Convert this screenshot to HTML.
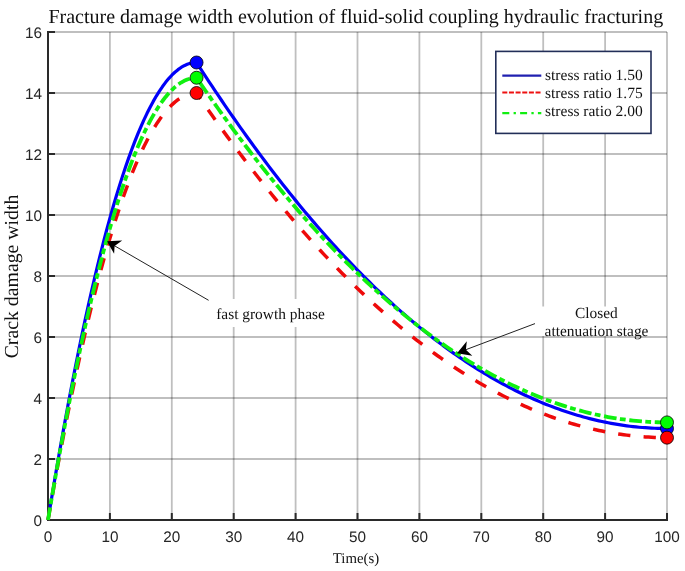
<!DOCTYPE html>
<html><head><meta charset="utf-8"><title>Fracture damage width evolution</title>
<style>
html,body{margin:0;padding:0;background:#fff;}
body{width:685px;height:571px;overflow:hidden;}
svg{display:block;text-rendering:geometricPrecision;}
.serif{font-family:"Liberation Serif","Times New Roman",serif;fill:#111;}
.sans{font-family:"Liberation Sans",Arial,sans-serif;fill:#262626;font-size:15.3px;}
</style></head><body>
<svg width="685" height="571" viewBox="0 0 685 571">
<rect width="685" height="571" fill="#fff"/>
<g stroke="#000" stroke-opacity="0.25" stroke-width="1.8" fill="none">
<line x1="109.90" y1="32.0" x2="109.90" y2="520.0"/>
<line x1="171.80" y1="32.0" x2="171.80" y2="520.0"/>
<line x1="233.70" y1="32.0" x2="233.70" y2="520.0"/>
<line x1="295.60" y1="32.0" x2="295.60" y2="520.0"/>
<line x1="357.50" y1="32.0" x2="357.50" y2="520.0"/>
<line x1="419.40" y1="32.0" x2="419.40" y2="520.0"/>
<line x1="481.30" y1="32.0" x2="481.30" y2="520.0"/>
<line x1="543.20" y1="32.0" x2="543.20" y2="520.0"/>
<line x1="605.10" y1="32.0" x2="605.10" y2="520.0"/>
<line x1="667.00" y1="32.0" x2="667.00" y2="520.0"/>
<line x1="48.0" y1="459.00" x2="667.0" y2="459.00"/>
<line x1="48.0" y1="398.00" x2="667.0" y2="398.00"/>
<line x1="48.0" y1="337.00" x2="667.0" y2="337.00"/>
<line x1="48.0" y1="276.00" x2="667.0" y2="276.00"/>
<line x1="48.0" y1="215.00" x2="667.0" y2="215.00"/>
<line x1="48.0" y1="154.00" x2="667.0" y2="154.00"/>
<line x1="48.0" y1="93.00" x2="667.0" y2="93.00"/>
<line x1="48.0" y1="32.00" x2="667.0" y2="32.00"/>
</g>
<g stroke="#2a2a2a" stroke-width="2" fill="none">
<path d="M48.0,31.0 V520.0 H668.0"/>
<line x1="48.00" y1="520.0" x2="48.00" y2="513.0"/>
<line x1="109.90" y1="520.0" x2="109.90" y2="513.0"/>
<line x1="171.80" y1="520.0" x2="171.80" y2="513.0"/>
<line x1="233.70" y1="520.0" x2="233.70" y2="513.0"/>
<line x1="295.60" y1="520.0" x2="295.60" y2="513.0"/>
<line x1="357.50" y1="520.0" x2="357.50" y2="513.0"/>
<line x1="419.40" y1="520.0" x2="419.40" y2="513.0"/>
<line x1="481.30" y1="520.0" x2="481.30" y2="513.0"/>
<line x1="543.20" y1="520.0" x2="543.20" y2="513.0"/>
<line x1="605.10" y1="520.0" x2="605.10" y2="513.0"/>
<line x1="667.00" y1="520.0" x2="667.00" y2="513.0"/>
<line x1="48.0" y1="520.00" x2="55.0" y2="520.00"/>
<line x1="48.0" y1="459.00" x2="55.0" y2="459.00"/>
<line x1="48.0" y1="398.00" x2="55.0" y2="398.00"/>
<line x1="48.0" y1="337.00" x2="55.0" y2="337.00"/>
<line x1="48.0" y1="276.00" x2="55.0" y2="276.00"/>
<line x1="48.0" y1="215.00" x2="55.0" y2="215.00"/>
<line x1="48.0" y1="154.00" x2="55.0" y2="154.00"/>
<line x1="48.0" y1="93.00" x2="55.0" y2="93.00"/>
<line x1="48.0" y1="32.00" x2="55.0" y2="32.00"/>
</g>
<g fill="none" stroke-linejoin="round">
<path d="M48.00,520.00 L51.09,501.14 L54.19,482.67 L57.28,464.60 L60.38,446.93 L63.48,429.65 L66.57,412.77 L69.66,396.29 L72.76,380.21 L75.86,364.52 L78.95,349.23 L82.05,334.34 L85.14,319.84 L88.23,305.75 L91.33,292.04 L94.42,278.74 L97.52,265.83 L100.62,253.32 L103.71,241.21 L106.81,229.50 L109.90,218.18 L113.00,207.26 L116.09,196.73 L119.19,186.60 L122.28,176.88 L125.38,167.54 L128.47,158.61 L131.56,150.07 L134.66,141.93 L137.75,134.18 L140.85,126.84 L143.94,119.89 L147.04,113.33 L150.13,107.18 L153.23,101.42 L156.32,96.06 L159.42,91.09 L162.51,86.53 L165.61,82.36 L168.70,78.58 L171.80,75.21 L174.89,72.23 L177.99,69.65 L181.09,67.46 L184.18,65.68 L187.28,64.29 L190.37,63.29 L193.47,62.70 L196.56,62.50 L199.66,67.30 L202.75,72.07 L205.84,76.80 L208.94,81.51 L212.03,86.18 L215.13,90.82 L218.22,95.43 L221.32,100.01 L224.41,104.56 L227.51,109.07 L230.60,113.56 L233.70,118.01 L236.79,122.43 L239.89,126.82 L242.99,131.17 L246.08,135.50 L249.18,139.79 L252.27,144.05 L255.37,148.28 L258.46,152.48 L261.56,156.65 L264.65,160.78 L267.75,164.88 L270.84,168.95 L273.94,172.99 L277.03,177.00 L280.12,180.98 L283.22,184.92 L286.31,188.84 L289.41,192.72 L292.50,196.57 L295.60,200.38 L298.69,204.17 L301.79,207.92 L304.88,211.65 L307.98,215.34 L311.07,219.00 L314.17,222.62 L317.26,226.22 L320.36,229.79 L323.45,233.32 L326.55,236.82 L329.64,240.29 L332.74,243.73 L335.83,247.13 L338.93,250.51 L342.02,253.85 L345.12,257.16 L348.21,260.44 L351.31,263.69 L354.40,266.90 L357.50,270.09 L360.60,273.24 L363.69,276.36 L366.79,279.45 L369.88,282.51 L372.98,285.53 L376.07,288.53 L379.17,291.49 L382.26,294.42 L385.36,297.32 L388.45,300.18 L391.55,303.02 L394.64,305.82 L397.74,308.60 L400.83,311.34 L403.93,314.05 L407.02,316.72 L410.12,319.37 L413.21,321.98 L416.31,324.56 L419.40,327.11 L422.50,329.63 L425.59,332.12 L428.69,334.58 L431.78,337.00 L434.88,339.39 L437.97,341.75 L441.06,344.08 L444.16,346.38 L447.25,348.64 L450.35,350.88 L453.44,353.08 L456.54,355.25 L459.63,357.39 L462.73,359.49 L465.82,361.57 L468.92,363.61 L472.01,365.63 L475.11,367.61 L478.20,369.55 L481.30,371.47 L484.39,373.36 L487.49,375.21 L490.58,377.03 L493.68,378.82 L496.77,380.58 L499.87,382.31 L502.96,384.00 L506.06,385.66 L509.15,387.30 L512.25,388.90 L515.35,390.46 L518.44,392.00 L521.54,393.51 L524.63,394.98 L527.73,396.42 L530.82,397.83 L533.91,399.21 L537.01,400.56 L540.11,401.87 L543.20,403.15 L546.30,404.41 L549.39,405.62 L552.49,406.81 L555.58,407.97 L558.67,409.09 L561.77,410.19 L564.87,411.25 L567.96,412.28 L571.05,413.28 L574.15,414.24 L577.25,415.18 L580.34,416.08 L583.43,416.95 L586.53,417.79 L589.62,418.60 L592.72,419.38 L595.82,420.12 L598.91,420.83 L602.00,421.51 L605.10,422.16 L608.20,422.78 L611.29,423.37 L614.38,423.92 L617.48,424.44 L620.58,424.94 L623.67,425.40 L626.76,425.82 L629.86,426.22 L632.96,426.58 L636.05,426.92 L639.14,427.22 L642.24,427.49 L645.34,427.72 L648.43,427.93 L651.52,428.10 L654.62,428.25 L657.72,428.36 L660.81,428.44 L663.90,428.48 L667.00,428.50" stroke="#0000f8" stroke-width="3.2"/>
<path d="M48.00,520.00 L51.09,502.39 L54.19,485.16 L57.28,468.29 L60.38,451.80 L63.48,435.67 L66.57,419.92 L69.66,404.54 L72.76,389.53 L75.86,374.89 L78.95,360.62 L82.05,346.72 L85.14,333.19 L88.23,320.03 L91.33,307.24 L94.42,294.82 L97.52,282.78 L100.62,271.10 L103.71,259.80 L106.81,248.86 L109.90,238.30 L113.00,228.11 L116.09,218.28 L119.19,208.83 L122.28,199.75 L125.38,191.04 L128.47,182.70 L131.56,174.73 L134.66,167.13 L137.75,159.90 L140.85,153.05 L143.94,146.56 L147.04,140.44 L150.13,134.70 L153.23,129.32 L156.32,124.32 L159.42,119.69 L162.51,115.42 L165.61,111.53 L168.70,108.01 L171.80,104.86 L174.89,102.08 L177.99,99.67 L181.09,97.63 L184.18,95.97 L187.28,94.67 L190.37,93.74 L193.47,93.19 L196.56,93.00 L199.66,97.52 L202.75,102.01 L205.84,106.47 L208.94,110.90 L212.03,115.30 L215.13,119.67 L218.22,124.01 L221.32,128.32 L224.41,132.61 L227.51,136.86 L230.60,141.08 L233.70,145.27 L236.79,149.43 L239.89,153.56 L242.99,157.67 L246.08,161.74 L249.18,165.78 L252.27,169.79 L255.37,173.78 L258.46,177.73 L261.56,181.65 L264.65,185.55 L267.75,189.41 L270.84,193.24 L273.94,197.05 L277.03,200.82 L280.12,204.57 L283.22,208.28 L286.31,211.97 L289.41,215.62 L292.50,219.25 L295.60,222.84 L298.69,226.41 L301.79,229.94 L304.88,233.45 L307.98,236.92 L311.07,240.37 L314.17,243.78 L317.26,247.17 L320.36,250.53 L323.45,253.85 L326.55,257.15 L329.64,260.42 L332.74,263.65 L335.83,266.86 L338.93,270.04 L342.02,273.19 L345.12,276.30 L348.21,279.39 L351.31,282.45 L354.40,285.48 L357.50,288.48 L360.60,291.45 L363.69,294.38 L366.79,297.29 L369.88,300.17 L372.98,303.02 L376.07,305.84 L379.17,308.63 L382.26,311.39 L385.36,314.12 L388.45,316.82 L391.55,319.49 L394.64,322.13 L397.74,324.74 L400.83,327.32 L403.93,329.87 L407.02,332.39 L410.12,334.88 L413.21,337.35 L416.31,339.78 L419.40,342.18 L422.50,344.55 L425.59,346.89 L428.69,349.21 L431.78,351.49 L434.88,353.74 L437.97,355.96 L441.06,358.16 L444.16,360.32 L447.25,362.45 L450.35,364.56 L453.44,366.63 L456.54,368.67 L459.63,370.69 L462.73,372.67 L465.82,374.62 L468.92,376.55 L472.01,378.44 L475.11,380.31 L478.20,382.14 L481.30,383.95 L484.39,385.72 L487.49,387.47 L490.58,389.18 L493.68,390.87 L496.77,392.53 L499.87,394.15 L502.96,395.75 L506.06,397.31 L509.15,398.85 L512.25,400.36 L515.35,401.83 L518.44,403.28 L521.54,404.70 L524.63,406.08 L527.73,407.44 L530.82,408.77 L533.91,410.07 L537.01,411.34 L540.11,412.57 L543.20,413.78 L546.30,414.96 L549.39,416.11 L552.49,417.23 L555.58,418.32 L558.67,419.38 L561.77,420.41 L564.87,421.41 L567.96,422.37 L571.05,423.31 L574.15,424.22 L577.25,425.10 L580.34,425.95 L583.43,426.78 L586.53,427.57 L589.62,428.33 L592.72,429.06 L595.82,429.76 L598.91,430.43 L602.00,431.07 L605.10,431.68 L608.20,432.26 L611.29,432.82 L614.38,433.34 L617.48,433.83 L620.58,434.29 L623.67,434.73 L626.76,435.13 L629.86,435.50 L632.96,435.85 L636.05,436.16 L639.14,436.44 L642.24,436.70 L645.34,436.92 L648.43,437.11 L651.52,437.28 L654.62,437.41 L657.72,437.52 L660.81,437.59 L663.90,437.64 L667.00,437.65" stroke="#ee0a0a" stroke-width="3.5" stroke-dasharray="12.3 13.25"/>
<path d="M48.00,520.00 L51.09,501.76 L54.19,483.91 L57.28,466.45 L60.38,449.36 L63.48,432.66 L66.57,416.35 L69.66,400.42 L72.76,384.87 L75.86,369.70 L78.95,354.92 L82.05,340.53 L85.14,326.52 L88.23,312.89 L91.33,299.64 L94.42,286.78 L97.52,274.31 L100.62,262.21 L103.71,250.50 L106.81,239.18 L109.90,228.24 L113.00,217.68 L116.09,207.51 L119.19,197.72 L122.28,188.31 L125.38,179.29 L128.47,170.65 L131.56,162.40 L134.66,154.53 L137.75,147.04 L140.85,139.94 L143.94,133.22 L147.04,126.89 L150.13,120.94 L153.23,115.37 L156.32,110.19 L159.42,105.39 L162.51,100.98 L165.61,96.94 L168.70,93.30 L171.80,90.03 L174.89,87.16 L177.99,84.66 L181.09,82.55 L184.18,80.82 L187.28,79.48 L190.37,78.52 L193.47,77.94 L196.56,77.75 L199.66,82.27 L202.75,86.76 L205.84,91.22 L208.94,95.65 L212.03,100.05 L215.13,104.42 L218.22,108.76 L221.32,113.07 L224.41,117.36 L227.51,121.61 L230.60,125.83 L233.70,130.02 L236.79,134.18 L239.89,138.31 L242.99,142.42 L246.08,146.49 L249.18,150.53 L252.27,154.54 L255.37,158.53 L258.46,162.48 L261.56,166.40 L264.65,170.30 L267.75,174.16 L270.84,177.99 L273.94,181.80 L277.03,185.57 L280.12,189.32 L283.22,193.03 L286.31,196.72 L289.41,200.37 L292.50,204.00 L295.60,207.59 L298.69,211.16 L301.79,214.69 L304.88,218.20 L307.98,221.67 L311.07,225.12 L314.17,228.53 L317.26,231.92 L320.36,235.28 L323.45,238.60 L326.55,241.90 L329.64,245.17 L332.74,248.40 L335.83,251.61 L338.93,254.79 L342.02,257.94 L345.12,261.05 L348.21,264.14 L351.31,267.20 L354.40,270.23 L357.50,273.23 L360.60,276.20 L363.69,279.13 L366.79,282.04 L369.88,284.92 L372.98,287.77 L376.07,290.59 L379.17,293.38 L382.26,296.14 L385.36,298.87 L388.45,301.57 L391.55,304.24 L394.64,306.88 L397.74,309.49 L400.83,312.07 L403.93,314.62 L407.02,317.14 L410.12,319.63 L413.21,322.10 L416.31,324.53 L419.40,326.93 L422.50,329.30 L425.59,331.64 L428.69,333.96 L431.78,336.24 L434.88,338.49 L437.97,340.71 L441.06,342.91 L444.16,345.07 L447.25,347.20 L450.35,349.31 L453.44,351.38 L456.54,353.42 L459.63,355.44 L462.73,357.42 L465.82,359.37 L468.92,361.30 L472.01,363.19 L475.11,365.06 L478.20,366.89 L481.30,368.70 L484.39,370.47 L487.49,372.22 L490.58,373.93 L493.68,375.62 L496.77,377.28 L499.87,378.90 L502.96,380.50 L506.06,382.06 L509.15,383.60 L512.25,385.11 L515.35,386.58 L518.44,388.03 L521.54,389.45 L524.63,390.83 L527.73,392.19 L530.82,393.52 L533.91,394.82 L537.01,396.09 L540.11,397.32 L543.20,398.53 L546.30,399.71 L549.39,400.86 L552.49,401.98 L555.58,403.07 L558.67,404.13 L561.77,405.16 L564.87,406.16 L567.96,407.12 L571.05,408.06 L574.15,408.97 L577.25,409.85 L580.34,410.70 L583.43,411.53 L586.53,412.32 L589.62,413.08 L592.72,413.81 L595.82,414.51 L598.91,415.18 L602.00,415.82 L605.10,416.43 L608.20,417.01 L611.29,417.57 L614.38,418.09 L617.48,418.58 L620.58,419.04 L623.67,419.48 L626.76,419.88 L629.86,420.25 L632.96,420.60 L636.05,420.91 L639.14,421.19 L642.24,421.45 L645.34,421.67 L648.43,421.86 L651.52,422.03 L654.62,422.16 L657.72,422.27 L660.81,422.34 L663.90,422.39 L667.00,422.40" stroke="#10f010" stroke-width="3.8" stroke-dasharray="12.7 3.4 5.8 3.65"/>
</g>
<g stroke="#000" stroke-width="0.8">
<circle cx="196.56" cy="62.50" r="6.5" fill="#0000ff"/>
<circle cx="196.56" cy="93.00" r="6.5" fill="#ff0000"/>
<circle cx="196.56" cy="77.75" r="6.5" fill="#00ff00"/>
<circle cx="667.00" cy="428.50" r="6.5" fill="#0000ff"/>
<circle cx="667.00" cy="437.65" r="6.5" fill="#ff0000"/>
<circle cx="667.00" cy="422.40" r="6.5" fill="#00ff00"/>
</g>
<!-- annotations -->
<rect x="208" y="299" width="124" height="28" fill="#fff"/>
<rect x="535" y="306.5" width="122" height="29.5" fill="#fff"/>
<g stroke="#222" stroke-width="1" fill="none">
<line x1="208.6" y1="300.3" x2="113.5" y2="245.2"/>
<line x1="535" y1="323.6" x2="464.5" y2="350.2"/>
</g>
<g fill="#000" stroke="none">
<path d="M107.0,241.2 L122.2,240.6 L114.6,245.9 L114.1,253.7 Z"/>
<path d="M457.0,353.3 L466.8,341.2 L465.9,349.8 L472.3,355.8 Z"/>
</g>
<g class="serif" font-size="15.4px">
<text x="270.5" y="318.6" text-anchor="middle">fast growth phase</text>
<text x="596.4" y="317.8" text-anchor="middle">Closed</text>
<text x="596.5" y="336.1" text-anchor="middle">attenuation stage</text>
</g>
<!-- legend -->
<rect x="495.8" y="51.4" width="155.2" height="82" fill="#fff" stroke="#222e58" stroke-width="1.6"/>
<g fill="none" stroke-width="2.2">
<line x1="502.3" y1="75.6" x2="541.3" y2="75.6" stroke="#2020b0"/>
<line x1="502.3" y1="92.5" x2="541.3" y2="92.5" stroke="#ee1111" stroke-dasharray="5 1.65"/>
<line x1="502.3" y1="113.2" x2="541.3" y2="113.2" stroke="#11ee11" stroke-dasharray="7 4.3 2.3 4.2"/>
</g>
<g class="serif" font-size="15.5px">
<text x="545" y="79.7">stress ratio 1.50</text>
<text x="545" y="97.8">stress ratio 1.75</text>
<text x="545" y="116">stress ratio 2.00</text>
</g>
<g class="sans">
<text x="48.00" y="542.3" text-anchor="middle">0</text>
<text x="109.90" y="542.3" text-anchor="middle">10</text>
<text x="171.80" y="542.3" text-anchor="middle">20</text>
<text x="233.70" y="542.3" text-anchor="middle">30</text>
<text x="295.60" y="542.3" text-anchor="middle">40</text>
<text x="357.50" y="542.3" text-anchor="middle">50</text>
<text x="419.40" y="542.3" text-anchor="middle">60</text>
<text x="481.30" y="542.3" text-anchor="middle">70</text>
<text x="543.20" y="542.3" text-anchor="middle">80</text>
<text x="605.10" y="542.3" text-anchor="middle">90</text>
<text x="667.00" y="542.3" text-anchor="middle">100</text>
<text x="42" y="525.80" text-anchor="end">0</text>
<text x="42" y="464.80" text-anchor="end">2</text>
<text x="42" y="403.80" text-anchor="end">4</text>
<text x="42" y="342.80" text-anchor="end">6</text>
<text x="42" y="281.80" text-anchor="end">8</text>
<text x="42" y="220.80" text-anchor="end">10</text>
<text x="42" y="159.80" text-anchor="end">12</text>
<text x="42" y="98.80" text-anchor="end">14</text>
<text x="42" y="37.80" text-anchor="end">16</text>
</g>
<text class="serif" font-size="20.02px" x="355.8" y="23.1" text-anchor="middle">Fracture damage width evolution of fluid-solid coupling hydraulic fracturing</text>
<text class="serif" font-size="14.8px" x="356" y="562.6" text-anchor="middle">Time(s)</text>
<text class="serif" font-size="19.8px" transform="translate(17.6,276.5) rotate(-90)" text-anchor="middle">Crack damage width</text>
</svg>
</body></html>
